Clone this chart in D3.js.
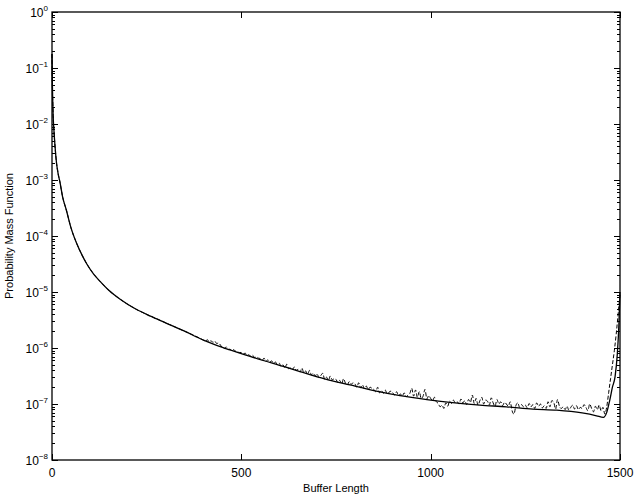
<!DOCTYPE html>
<html lang="en">
  <head>
    <meta charset="utf-8" />
    <title>Buffer Length PMF</title>
    <script src="https://d3js.org/d3.v7.min.js"></script>
    <style>
      body {
        margin: 0;
        background-color: #fff;
        font-family: "Liberation Sans", Arial, sans-serif;
      }
    </style>
  </head>
  <body>
    <div id="chart"></div>
    <script>
      // solid curve: [buffer length, log10(pmf)]
      const solidPts = [
        [0, -0.75], [1, -1.3], [2, -1.6], [3, -1.85], [5, -2.1], [8, -2.4],
        [12, -2.7], [16, -2.88], [21, -3.04], [28, -3.3], [38, -3.54],
        [50, -3.85], [65, -4.13], [80, -4.35], [92, -4.5], [110, -4.68],
        [127, -4.81], [150, -4.97], [180, -5.13], [220, -5.3], [260, -5.43],
        [300, -5.55], [350, -5.7], [400, -5.86], [450, -5.99], [523, -6.15],
        [611, -6.33], [655, -6.42], [720, -6.55], [787, -6.66], [850, -6.76],
        [919, -6.85], [990, -6.92], [1051, -6.97], [1130, -7.02], [1200, -7.05],
        [1270, -7.09], [1333, -7.11], [1400, -7.16], [1438, -7.21], [1456, -7.24],
        [1465, -7.15], [1473, -6.93], [1480, -6.7], [1487, -6.51], [1493, -6.1],
        [1497, -5.6], [1500, -5.0]
      ];

      // dashed curve follows the solid one up to 400, then every 5 units
      const dashedHeadPts = solidPts.filter((d) => d[0] < 400);
      const dashedStart = 400;
      const dashedStep = 5;
      const dashedVals = [
        -5.86, -5.88, -5.85, -5.89, -5.87, -5.90, -5.88, -5.92, -5.91, -5.95,
        -5.99, -6.01, -5.98, -6.03, -6.02, -6.05, -6.03, -6.06, -6.07, -6.08,
        -6.08, -6.11, -6.09, -6.13, -6.12, -6.15, -6.13, -6.17, -6.16, -6.18,
        -6.19, -6.22, -6.18, -6.24, -6.21, -6.25, -6.23, -6.27, -6.25, -6.29,
        -6.27, -6.33, -6.30, -6.36, -6.29, -6.37, -6.35, -6.38, -6.34, -6.40,
        -6.38, -6.43, -6.36, -6.44, -6.41, -6.47, -6.40, -6.48, -6.45, -6.50,
        -6.46, -6.53, -6.49, -6.45, -6.56, -6.52, -6.58, -6.50, -6.57, -6.55,
        -6.56, -6.62, -6.58, -6.64, -6.55, -6.63, -6.66, -6.60, -6.65, -6.62,
        -6.64, -6.70, -6.62, -6.71, -6.66, -6.73, -6.68, -6.74, -6.70, -6.72,
        -6.74, -6.78, -6.70, -6.80, -6.76, -6.81, -6.75, -6.82, -6.79, -6.77,
        -6.80, -6.84, -6.78, -6.85, -6.82, -6.86, -6.80, -6.87, -6.84, -6.81,
        -6.72, -6.86, -6.75, -6.88, -6.78, -6.90, -6.86, -6.74, -6.91, -6.85,
        -6.90, -6.94, -6.88, -6.96, -6.99, -7.05, -7.02, -7.08, -6.98, -7.04,
        -6.95, -6.99, -6.93, -6.98, -6.96, -7.00, -6.91, -6.98, -6.94, -7.01,
        -6.92, -6.97, -6.84, -6.99, -6.90, -7.02, -6.94, -6.88, -7.00, -6.93,
        -6.95, -7.02, -6.89, -6.98, -7.04, -6.92, -7.00, -6.96, -7.03, -6.97,
        -7.00, -7.04, -6.96, -7.12, -7.18, -7.03, -6.98, -7.06, -7.01, -7.05,
        -7.02, -7.07, -6.99, -7.05, -7.01, -7.08, -6.98, -7.04, -7.00, -7.07,
        -7.03, -7.08, -6.96, -7.05, -6.94, -6.97, -7.09, -6.92, -7.04, -7.08,
        -7.05, -7.10, -7.04, -7.11, -7.06, -7.02, -7.09, -7.03, -7.10, -7.06,
        -7.08, -7.01, -7.06, -7.12, -7.00, -7.08, -7.14, -7.04, -7.10, -7.02,
        -7.12, -7.06, -7.18, -7.05, -6.80, -6.55, -6.30, -6.05, -5.75, -5.40,
        -5.05
      ];

      const xTicks = [0, 500, 1000, 1500];
      const yExps = [-8, -7, -6, -5, -4, -3, -2, -1, 0];

      const margin = { top: 12, right: 14, bottom: 37, left: 52 },
        W = 634,
        H = 497,
        width = W - margin.left - margin.right,
        height = H - margin.top - margin.bottom;

      const svg = d3
        .select("#chart")
        .append("svg")
        .attr("width", W)
        .attr("height", H);

      const g = svg
        .append("g")
        .attr("transform", `translate(${margin.left},${margin.top})`);

      const x = d3.scaleLinear().domain([0, 1500]).range([0, width]);
      const y = d3.scaleLog().domain([1e-8, 1]).range([height, 0]);

      const dashedPts = dashedHeadPts.concat(
        dashedVals.map((v, i) => [dashedStart + i * dashedStep, v])
      );

      const line = d3
        .line()
        .x((d) => x(d[0]))
        .y((d) => y(Math.pow(10, d[1])));

      g.append("path")
        .datum(dashedPts)
        .attr("fill", "none")
        .attr("stroke", "#000")
        .attr("stroke-width", 1)
        .attr("stroke-dasharray", "4,2")
        .attr("d", line.curve(d3.curveMonotoneX));

      g.append("path")
        .datum(solidPts)
        .attr("fill", "none")
        .attr("stroke", "#000")
        .attr("stroke-width", 1.3)
        .attr("d", line.curve(d3.curveMonotoneX));

      // minor tick values on y
      const minor = [];
      yExps.slice(0, -1).forEach((e) => {
        for (let k = 2; k <= 9; k++) minor.push(k * Math.pow(10, e));
      });

      const tickG = g.append("g").attr("stroke", "#000").attr("stroke-width", 1);

      // y ticks, left and right, pointing in
      [0, width].forEach((x0) => {
        const dir = x0 === 0 ? 1 : -1;
        tickG
          .selectAll(null)
          .data(yExps)
          .enter()
          .append("line")
          .attr("x1", x0)
          .attr("x2", x0 + dir * 6)
          .attr("y1", (e) => Math.round(y(Math.pow(10, e))) + 0.5)
          .attr("y2", (e) => Math.round(y(Math.pow(10, e))) + 0.5);
        tickG
          .selectAll(null)
          .data(minor)
          .enter()
          .append("line")
          .attr("x1", x0)
          .attr("x2", x0 + dir * 3)
          .attr("y1", (v) => Math.round(y(v)) + 0.5)
          .attr("y2", (v) => Math.round(y(v)) + 0.5);
      });

      // x ticks, bottom and top
      [0, height].forEach((y0) => {
        const dir = y0 === 0 ? 1 : -1;
        tickG
          .selectAll(null)
          .data(xTicks)
          .enter()
          .append("line")
          .attr("x1", (d) => Math.round(x(d)) + 0.5)
          .attr("x2", (d) => Math.round(x(d)) + 0.5)
          .attr("y1", y0)
          .attr("y2", y0 + dir * 6);
      });

      // frame
      g.append("rect")
        .attr("x", 0)
        .attr("y", 0)
        .attr("width", width)
        .attr("height", height)
        .attr("fill", "none")
        .attr("stroke", "#000")
        .attr("stroke-width", 1.3);

      // y tick labels 10^e
      const yl = g
        .selectAll(".ylab")
        .data(yExps)
        .enter()
        .append("text")
        .attr("class", "ylab")
        .attr("x", -4)
        .attr("y", (e) => y(Math.pow(10, e)) + 5)
        .attr("text-anchor", "end")
        .style("font-size", "12px");
      yl.append("tspan").text("10");
      yl.append("tspan")
        .attr("dy", -6)
        .style("font-size", "8px")
        .text((e) => (e === 0 ? "0" : "\u2212" + -e));

      // x tick labels
      g.selectAll(".xlab")
        .data(xTicks)
        .enter()
        .append("text")
        .attr("class", "xlab")
        .attr("x", (d) => x(d))
        .attr("y", height + 17)
        .attr("text-anchor", "middle")
        .style("font-size", "12px")
        .text((d) => d);

      // axis titles
      g.append("text")
        .attr("x", width / 2)
        .attr("y", height + 32)
        .attr("text-anchor", "middle")
        .style("font-size", "11px")
        .text("Buffer Length");

      g.append("text")
        .attr("transform", `translate(-39,${height / 2}) rotate(-90)`)
        .attr("text-anchor", "middle")
        .style("font-size", "11px")
        .text("Probability Mass Function");
    </script>
  </body>
</html>
